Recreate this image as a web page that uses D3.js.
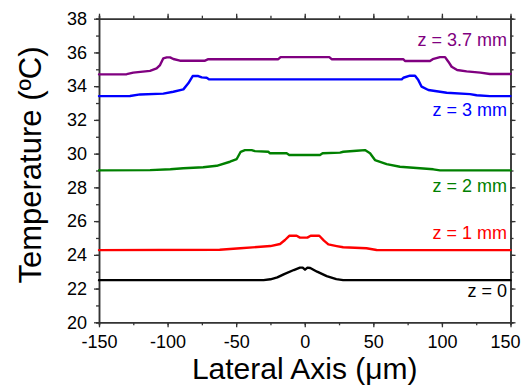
<!DOCTYPE html>
<html>
<head>
<meta charset="utf-8">
<script src="https://cdn.jsdelivr.net/npm/d3@7"></script>
<style>
  html, body { margin: 0; padding: 0; background: #fff; }
  svg { display: block; font-family: "Liberation Sans", Arial, sans-serif; }
</style>
</head>
<body>
<svg id="chart" width="521" height="386"></svg>
<script>
// ---- Data ----
const xTicks = [-150, -100, -50, 0, 50, 100, 150];
const yTicks = [20, 22, 24, 26, 28, 30, 32, 34, 36, 38];
const seriesLabels = ["z = 0", "z = 1 mm", "z = 2 mm", "z = 3 mm", "z = 3.7 mm"];
const seriesColors = ["#000000", "#ff0000", "#008000", "#0000ff", "#800080"];

const z0 = [[-150,22.5],[-30,22.5],[-25,22.55],[-20,22.66],[-15,22.86],[-8,23.1],[-3.5,23.24],[-1.5,23.24],[0.2,23.12],[2,23.24],[4,23.22],[9,23.0],[16,22.74],[23,22.56],[28,22.5],[150,22.5]];
const z1 = [[-150,24.28],[-62,24.3],[-47,24.39],[-25,24.52],[-18,24.64],[-14.4,24.88],[-11.3,25.13],[-5.9,25.13],[-3.5,25.02],[1.9,25.02],[4.3,25.13],[10.6,25.13],[14,24.84],[17.2,24.62],[23.3,24.52],[28,24.45],[45,24.39],[52.4,24.29],[150,24.28]];
const z2 = [[-150,29.01],[-112.8,29.02],[-98,29.07],[-88.5,29.13],[-74,29.19],[-64.2,29.28],[-54.5,29.52],[-49.6,29.68],[-46.7,30.11],[-43.6,30.21],[-38.7,30.21],[-36.3,30.15],[-26.6,30.11],[-25.3,30.02],[-13.2,30.02],[-11.3,29.92],[11.1,29.92],[13,30.02],[25.7,30.06],[28.1,30.11],[37.8,30.17],[43.9,30.21],[47.6,30.02],[51.2,29.62],[59.7,29.38],[69.4,29.22],[93.7,29.07],[98.6,29.01],[150,29.01]];
const z3 = [[-150,33.41],[-127.4,33.42],[-120,33.51],[-103.1,33.56],[-95.8,33.67],[-88.5,33.81],[-84.9,34.17],[-81.7,34.6],[-77.6,34.6],[-75.1,34.52],[-71.5,34.5],[-69.6,34.4],[70.7,34.4],[71.9,34.5],[76.7,34.62],[80.4,34.62],[82.8,34.36],[85.2,33.97],[90.1,33.77],[103.5,33.61],[120.5,33.53],[125.3,33.46],[135,33.41],[150,33.41]];
const z37 = [[-150,34.7],[-129.8,34.71],[-125,34.8],[-112.8,34.91],[-108,35.05],[-105.5,35.25],[-103.1,35.65],[-100.6,35.71],[-98.2,35.71],[-95.8,35.61],[-91,35.51],[-72.7,35.51],[-70.3,35.6],[-19.3,35.6],[-17.6,35.72],[17.9,35.72],[19.6,35.6],[71.9,35.6],[73.1,35.49],[91.3,35.49],[93.3,35.6],[98.6,35.72],[102.3,35.72],[104.7,35.45],[107.1,35.15],[111.1,34.96],[118,34.88],[128,34.8],[135,34.72],[150,34.72]];
const seriesData = [z0, z1, z2, z3, z37];

// ---- Layout ----
const svg = d3.select("#chart");
const margin = { left: 99, right: 10.5, top: 18.7, bottom: 63.7 };
const W = 521, H = 386;
const x = d3.scaleLinear().domain([-150, 150]).range([margin.left, W - margin.right]);
const y = d3.scaleLinear().domain([20, 38]).range([H - margin.bottom, margin.top]);

const axisColor = "#333";
function styleAxis(g) {
  g.selectAll(".domain").attr("stroke", axisColor).attr("stroke-width", 1.5);
  g.selectAll(".tick line").attr("stroke", axisColor).attr("stroke-width", 1.3);
  g.selectAll(".tick text").attr("fill", "#000").style("font-size", "18px")
    .style("font-family", '"Liberation Sans", Arial, sans-serif');
}
function noText(g) { g.selectAll(".tick text").remove(); }

const xMinor = d3.range(-150, 151, 25);
const yMinor = d3.range(20, 38.01, 1);

// minor ticks
svg.append("g").attr("transform", `translate(0,${y(20)})`)
  .call(d3.axisBottom(x).tickValues(xMinor).tickSize(3)).call(styleAxis).call(noText);
svg.append("g").attr("transform", `translate(0,${y(38)})`)
  .call(d3.axisTop(x).tickValues(xMinor).tickSize(3)).call(styleAxis).call(noText);
svg.append("g").attr("transform", `translate(${x(-150)},0)`)
  .call(d3.axisLeft(y).tickValues(yMinor).tickSize(3)).call(styleAxis).call(noText);
svg.append("g").attr("transform", `translate(${x(150)},0)`)
  .call(d3.axisRight(y).tickValues(yMinor).tickSize(3)).call(styleAxis).call(noText);

// major ticks
const xAxisG = svg.append("g").attr("transform", `translate(0,${y(20)})`)
  .call(d3.axisBottom(x).tickValues(xTicks).tickSize(5).tickPadding(8).tickSizeOuter(0).tickFormat(d3.format("d")))
  .call(styleAxis);
svg.append("g").attr("transform", `translate(0,${y(38)})`)
  .call(d3.axisTop(x).tickValues(xTicks).tickSize(5).tickSizeOuter(0)).call(styleAxis).call(noText);
svg.append("g").attr("transform", `translate(${x(-150)},0)`)
  .call(d3.axisLeft(y).tickValues(yTicks).tickSize(5).tickPadding(7).tickSizeOuter(0).tickFormat(d3.format("d")))
  .call(styleAxis);
svg.append("g").attr("transform", `translate(${x(150)},0)`)
  .call(d3.axisRight(y).tickValues(yTicks).tickSize(5).tickSizeOuter(0)).call(styleAxis).call(noText);

// use a plain hyphen for negatives, like the reference
svg.selectAll(".tick text").text(function() { return d3.select(this).text().replace("\u2212", "-"); });

// keep the last x label inside the page
xAxisG.selectAll(".tick text").filter(d => d === 150)
  .attr("text-anchor", "end").attr("x", W - 1 - x(150));

// lines
const line = d3.line().x(d => x(d[0])).y(d => y(d[1])).curve(d3.curveLinear);
seriesData.forEach((s, i) => {
  svg.append("path").datum(s)
    .attr("fill", "none")
    .attr("stroke", seriesColors[i])
    .attr("stroke-width", 2.4)
    .attr("stroke-linejoin", "round")
    .attr("stroke-linecap", "round")
    .attr("d", line);
});

// series labels
const labelBaselines = [297, 239, 192, 116, 46];
seriesLabels.forEach((t, i) => {
  svg.append("text")
    .attr("x", 507)
    .attr("y", labelBaselines[i])
    .attr("text-anchor", "end")
    .attr("fill", seriesColors[i])
    .style("font-size", "18px")
    .text(t);
});

// axis titles
svg.append("text")
  .attr("x", (x(-150) + x(150)) / 2)
  .attr("y", 379)
  .attr("text-anchor", "middle")
  .style("font-size", "30px")
  .attr("fill", "#000")
  .text("Lateral Axis (\u03BCm)");

svg.append("text")
  .attr("transform", `translate(41,165) rotate(-90)`)
  .attr("text-anchor", "middle")
  .style("font-size", "31px")
  .attr("fill", "#000")
  .text("Temperature (\u00BAC)");
</script>
</body>
</html>
